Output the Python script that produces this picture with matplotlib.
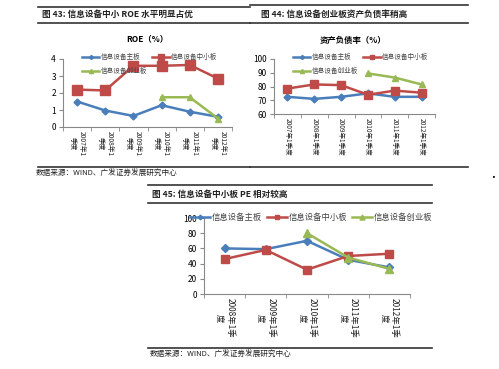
import numpy as np
import matplotlib
matplotlib.use('Agg')
from matplotlib import pyplot as plt

plt.rcParams['font.family'] = ['Noto Sans CJK SC', 'DejaVu Sans']

W, H = 499, 369

# data
names = ['信息设备主板', '信息设备中小板', '信息设备创业板']
colors = ['#4A7EBB', '#BE4B48', '#98B954']
markers = ['D', 's', '^']

roe_cats = ['2007年1\n季度', '2008年1\n季度', '2009年1\n季度', '2010年1\n季度', '2011年1\n季度', '2012年1\n季度']
roe_main = [1.5, 0.97, 0.65, 1.28, 0.9, 0.6]
roe_sme = [2.2, 2.15, 3.6, 3.6, 3.65, 2.85]
roe_gem = [np.nan, np.nan, np.nan, 1.75, 1.75, 0.5]

debt_cats = ['2007年1季度', '2008年1季度', '2009年1季度', '2010年1季度', '2011年1季度', '2012年1季度']
debt_main = [72.5, 71, 72.5, 75, 72.5, 72.5]
debt_sme = [78.5, 81.5, 81, 74, 77, 75.5]
debt_gem = [np.nan, np.nan, np.nan, 89.5, 86.5, 81.5]

pe_cats = ['2008年1季\n度', '2009年1季\n度', '2010年1季\n度', '2011年1季\n度', '2012年1季\n度']
pe_main = [60, 59, 70, 45, 35]
pe_sme = [46, 58, 32, 50, 53]
pe_gem = [np.nan, np.nan, 80, 48, 33]


def rect(x0, y0, x1, y1):
    return [x0 / W, 1 - y1 / H, (x1 - x0) / W, (y1 - y0) / H]


def px(x, y):
    return x / W, 1 - y / H


fig = plt.figure(figsize=(W / 100, H / 100), dpi=100)
fig.patch.set_facecolor('white')


def hline(x0, x1, y, lw=1.0):
    fig.add_artist(plt.Line2D([x0 / W, x1 / W], [1 - y / H, 1 - y / H],
                              color='#333333', lw=lw, transform=fig.transFigure))


def draw(ax, cats, series, ylim, yticks, ms_list, lab_size=4.8):
    x = np.arange(len(cats))
    for s, c, m, ms in zip(series, colors, markers, ms_list):
        ax.plot(x, s, color=c, marker=m, ms=ms, lw=1.8)
    ax.set_xlim(-0.5, len(cats) - 0.5)
    ax.set_ylim(*ylim)
    ax.set_yticks(yticks)
    ax.set_xticks(x)
    ax.set_xticklabels(cats, rotation=-90, fontsize=lab_size, color='#222222',
                       multialignment='center')
    ax.set_xticks(np.arange(len(cats) + 1) - 0.5, minor=True)
    ax.tick_params(axis='x', which='major', length=0, pad=3)
    ax.tick_params(axis='x', which='minor', length=3, color='#888888')
    ax.tick_params(axis='y', labelsize=6, length=3, color='#888888', pad=2)
    for sp in ['top', 'right']:
        ax.spines[sp].set_visible(False)
    for sp in ['left', 'bottom']:
        ax.spines[sp].set_color('#888888')
        ax.spines[sp].set_linewidth(0.8)


def legend2(ax, x, y):
    h = ax.lines
    leg = ax.legend([h[0], h[2], h[1]], [names[0], names[2], names[1]], ncol=2, fontsize=4.8,
                    frameon=False, loc='upper left', bbox_to_anchor=px(x, y),
                    bbox_transform=fig.transFigure, handlelength=2.6, columnspacing=0.8,
                    labelspacing=0.9, handletextpad=0.2, borderaxespad=0, borderpad=0,
                    markerscale=0.6)
    for t in leg.get_texts():
        t.set_color('#444444')


# figure 43
hline(38, 250, 7, 1.2)
hline(38, 250, 23, 1.2)
fig.text(*px(42, 14), '图 43: 信息设备中小 ROE 水平明显占优', fontsize=6.2,
         fontweight='bold', va='center', color='#222222')
fig.text(*px(147, 39), 'ROE（%）', fontsize=6, fontweight='bold', ha='center', va='center')
ax1 = fig.add_axes(rect(63, 59, 232, 127))
draw(ax1, roe_cats, [roe_main, roe_sme, roe_gem], (0, 4), [0, 1, 2, 3, 4], [3.5, 7, 5])
legend2(ax1, 82, 53)
hline(38, 250, 167, 1.2)
fig.text(*px(36, 174), '数据来源：WIND、广发证券发展研究中心', fontsize=5.5, va='center', color='#222222')

# figure 44
hline(250, 468, 5, 1.2)
hline(250, 468, 23, 1.2)
fig.text(*px(261, 14), '图 44: 信息设备创业板资产负债率稍高', fontsize=6.2,
         fontweight='bold', va='center', color='#222222')
fig.text(*px(353, 40), '资产负债率（%）', fontsize=6, fontweight='bold', ha='center', va='center')
ax2 = fig.add_axes(rect(274, 59, 435, 114))
draw(ax2, debt_cats, [debt_main, debt_sme, debt_gem], (60, 100), [60, 70, 80, 90, 100], [3.5, 6, 5],
     lab_size=4.7)
legend2(ax2, 293, 53)
hline(250, 468, 167, 1.2)
fig.text(*px(493, 178), '•', fontsize=7, ha='center', va='center')

# figure 45
hline(148, 432, 185, 1.2)
hline(148, 432, 203, 1.2)
fig.text(*px(152, 194), '图 45: 信息设备中小板 PE 相对较高', fontsize=6.2,
         fontweight='bold', va='center', color='#222222')
ax3 = fig.add_axes(rect(204, 218, 410, 294))
draw(ax3, pe_cats, [pe_main, pe_sme, pe_gem], (0, 100), [0, 20, 40, 60, 80, 100], [4, 6, 6],
     lab_size=6)
leg3 = ax3.legend(ax3.lines, names, ncol=3, fontsize=6, frameon=False, loc='center left',
                  bbox_to_anchor=px(190, 217), bbox_transform=fig.transFigure,
                  handlelength=2.4, columnspacing=0.6, markerscale=0.6,
                  handletextpad=0.2, borderaxespad=0, borderpad=0)
for t in leg3.get_texts():
    t.set_color('#444444')
hline(148, 432, 348, 1.2)
fig.text(*px(150, 355), '数据来源：WIND、广发证券发展研究中心', fontsize=5.5, va='center', color='#222222')

fig.savefig('out.png', dpi=100, facecolor='white')
